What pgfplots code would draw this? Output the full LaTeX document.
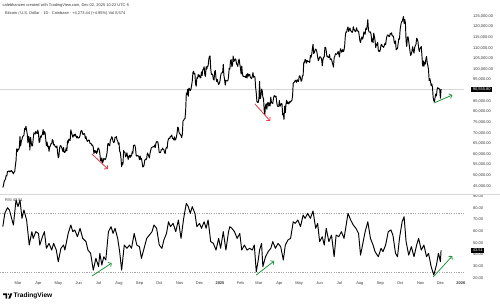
\documentclass[border=0pt]{standalone}
\usepackage{fontspec}
\setmainfont{Liberation Sans}
\usepackage{pgfplots}
\pgfplotsset{compat=1.18}
\usetikzlibrary{arrows.meta}
\definecolor{tvred}{RGB}{232,54,60}
\definecolor{tvgreen}{RGB}{34,150,60}
\definecolor{tvtext}{RGB}{55,55,62}
\definecolor{tvgrid}{RGB}{215,215,218}
\begin{document}
\begin{tikzpicture}
\path[use as bounding box, fill=white] (0bp,0bp) rectangle (500bp,-306bp);
\pgfplotsset{tvaxis/.style={scale only axis, width=463.5bp, xmin=-27.3, xmax=675,
  axis line style={draw=none}, tick style={draw=none}, major tick length=0pt,
  clip mode=individual,
  tick label style={font=\fontsize{4}{5}\selectfont, text=tvtext, inner sep=0pt}}}
% ---------------- price pane ----------------
\begin{axis}[tvaxis, at={(0bp,-194bp)}, anchor=south west, height=194bp,
  ymin=41.235, ymax=132.529, xtick=\empty,
  ytick={45,50,55,60,65,70,75,80,85,95,100,105,110,115,120,125},
  yticklabels={{45,000.00},{50,000.00},{55,000.00},{60,000.00},{65,000.00},{70,000.00},{75,000.00},{80,000.00},{85,000.00},{95,000.00},{100,000.00},{105,000.00},{110,000.00},{115,000.00},{120,000.00},{125,000.00}},
  yticklabel pos=right, yticklabel style={anchor=west, xshift=9.5bp}]
\draw[tvgrid, line width=0.6bp] (axis cs:-27.3,90.5558) -- (axis cs:675,90.5558);
\addplot[black, line width=0.95bp, line join=round] coordinates {
(-23,44.3)(-22,45.3)(-21,47.15)(-20,47.75)(-19,48.3)(-18,49.95)(-17,49.7)(-16,51.8)(-15,51.9)(-14,52.1)(-13,51.65)(-12,52.1)(-11,51.8)(-10,52.25)(-9,51.85)(-8,51.3)(-7,50.75)(-6,51.55)(-5,51.75)(-4,54.5)(-3,57.05)(-2,62.5)(-1,61.15)
(0,62.4)(1,62.0)(2,63.15)(3,68.3)(4,63.8)(5,66.1)(6,66.9)(7,68.3)(8,68.5)(9,69.0)(10,72.1)(11,71.45)(12,73.1)(13,71.4)(14,69.4)(15,65.3)(16,68.4)(17,67.6)(18,61.9)(19,67.9)(20,65.5)(21,63.8)(22,64.0)(23,67.2)(24,70.0)(25,69.9)(26,69.45)(27,70.75)(28,69.9)(29,69.65)(30,71.3)
(31,69.7)(32,65.5)(33,65.95)(34,68.5)(35,67.85)(36,68.9)(37,69.35)(38,71.6)(39,69.15)(40,70.6)(41,70.0)(42,67.1)(43,63.9)(44,65.7)(45,63.4)(46,63.8)(47,61.3)(48,63.5)(49,63.8)(50,64.95)(51,64.95)(52,66.8)(53,66.4)(54,64.3)(55,64.5)(56,63.75)(57,63.45)(58,63.1)(59,63.85)(60,60.65)
(61,58.25)(62,59.1)(63,62.9)(64,63.9)(65,64.0)(66,63.15)(67,62.3)(68,61.2)(69,63.1)(70,60.8)(71,60.8)(72,61.45)(73,62.9)(74,61.55)(75,66.25)(76,65.25)(77,67.05)(78,66.95)(79,66.3)(80,71.45)(81,70.15)(82,69.15)(83,67.95)(84,68.55)(85,69.3)(86,68.55)(87,69.4)(88,68.35)(89,67.65)(90,68.35)(91,67.5)
(92,67.75)(93,67.8)(94,68.8)(95,70.55)(96,71.1)(97,70.8)(98,69.35)(99,69.3)(100,69.65)(101,69.5)(102,67.3)(103,68.25)(104,66.75)(105,66.0)(106,66.2)(107,66.65)(108,66.5)(109,65.15)(110,64.95)(111,64.85)(112,64.1)(113,64.25)(114,63.2)(115,60.3)(116,61.8)(117,60.85)(118,61.6)(119,60.3)(120,60.9)(121,62.7)
(122,62.85)(123,62.0)(124,60.2)(125,57.05)(126,56.65)(127,58.25)(128,55.85)(129,56.7)(130,58.05)(131,57.75)(132,57.35)(133,57.9)(134,59.2)(135,60.8)(136,64.75)(137,65.05)(138,64.1)(139,63.95)(140,66.7)(141,67.15)(142,68.2)(143,67.6)(144,65.95)(145,65.4)(146,65.8)(147,67.9)(148,67.85)(149,68.25)(150,66.8)(151,66.2)(152,64.65)
(153,65.35)(154,61.45)(155,60.7)(156,58.15)(157,54.0)(158,56.05)(159,55.15)(160,61.7)(161,60.85)(162,60.9)(163,58.7)(164,59.35)(165,60.6)(166,58.75)(167,57.55)(168,58.9)(169,59.5)(170,58.45)(171,59.5)(172,59.05)(173,61.15)(174,60.4)(175,64.1)(176,64.2)(177,64.25)(178,62.85)(179,59.45)(180,59.05)(181,59.4)(182,59.15)(183,58.95)
(184,57.35)(185,59.15)(186,57.5)(187,58.0)(188,56.2)(189,53.95)(190,54.15)(191,54.85)(192,57.05)(193,57.65)(194,57.35)(195,58.15)(196,60.55)(197,60.0)(198,59.15)(199,58.2)(200,60.3)(201,61.75)(202,62.95)(203,63.2)(204,63.35)(205,63.6)(206,63.35)(207,64.25)(208,63.15)(209,65.2)(210,65.85)(211,65.85)(212,65.6)(213,63.3)
(214,60.8)(215,60.65)(216,60.75)(217,62.05)(218,62.05)(219,62.8)(220,62.2)(221,62.15)(222,60.6)(223,60.3)(224,62.45)(225,63.2)(226,62.85)(227,66.05)(228,67.05)(229,67.6)(230,67.4)(231,68.4)(232,68.35)(233,69.0)(234,67.35)(235,67.4)(236,66.65)(237,68.15)(238,66.6)(239,67.0)(240,67.95)(241,69.9)(242,72.7)(243,72.3)(244,70.2)
(245,69.5)(246,69.35)(247,68.75)(248,67.8)(249,69.35)(250,75.6)(251,75.9)(252,76.55)(253,76.7)(254,80.4)(255,88.7)(256,87.95)(257,90.5)(258,87.25)(259,91.05)(260,90.6)(261,89.85)(262,90.45)(263,92.3)(264,94.3)(265,98.35)(266,98.95)(267,97.7)(268,97.9)(269,93.0)(270,91.95)(271,95.95)(272,95.65)(273,97.45)(274,96.45)
(275,97.2)(276,95.85)(277,96.0)(278,98.75)(279,96.95)(280,99.8)(281,99.95)(282,101.15)(283,97.35)(284,96.6)(285,101.1)(286,100.0)(287,101.4)(288,101.4)(289,104.45)(290,106.05)(291,106.15)(292,100.2)(293,97.45)(294,97.75)(295,97.2)(296,95.15)(297,94.85)(298,98.7)(299,99.4)(300,95.8)(301,94.2)(302,95.15)(303,93.6)(304,92.75)(305,93.4)
(306,94.4)(307,96.9)(308,98.1)(309,98.25)(310,98.35)(311,102.25)(312,96.95)(313,95.05)(314,92.5)(315,94.7)(316,94.55)(317,94.5)(318,94.5)(319,96.55)(320,100.5)(321,99.95)(322,104.1)(323,104.45)(324,101.1)(325,102.05)(326,106.15)(327,103.65)(328,103.95)(329,104.8)(330,104.7)(331,102.6)(332,102.1)(333,101.3)(334,103.75)(335,104.75)(336,102.45)
(337,100.65)(338,97.7)(339,101.4)(340,97.85)(341,96.6)(342,96.55)(343,96.5)(344,96.45)(345,96.1)(346,97.45)(347,95.8)(348,97.9)(349,96.65)(350,97.55)(351,97.6)(352,96.15)(353,95.8)(354,95.55)(355,96.65)(356,98.35)(357,96.15)(358,96.6)(359,96.25)(360,91.55)(361,88.7)(362,84.7)(363,84.35)(364,84.35)
(365,86.05)(366,94.25)(367,86.1)(368,87.25)(369,90.6)(370,89.95)(371,86.75)(372,86.15)(373,80.75)(374,78.6)(375,82.9)(376,83.7)(377,81.1)(378,83.95)(379,84.35)(380,82.6)(381,84.05)(382,82.7)(383,86.85)(384,84.2)(385,84.05)(386,83.85)(387,86.1)(388,87.5)(389,87.45)(390,86.9)(391,87.2)(392,84.35)(393,82.65)(394,82.4)(395,82.55)
(396,85.2)(397,82.5)(398,83.15)(399,83.85)(400,83.55)(401,78.4)(402,79.15)(403,76.3)(404,82.6)(405,79.6)(406,83.4)(407,85.3)(408,83.75)(409,84.55)(410,83.65)(411,84.05)(412,84.9)(413,84.45)(414,85.05)(415,85.2)(416,87.5)(417,93.4)(418,93.7)(419,93.95)(420,94.7)(421,94.65)(422,93.75)(423,95.05)(424,94.3)(425,94.2)
(426,96.5)(427,96.9)(428,95.9)(429,94.3)(430,94.75)(431,96.85)(432,97.05)(433,103.25)(434,102.95)(435,104.65)(436,104.15)(437,102.8)(438,104.15)(439,103.55)(440,103.75)(441,103.5)(442,103.15)(443,106.5)(444,105.6)(445,106.8)(446,109.7)(447,111.7)(448,107.3)(449,107.8)(450,109.0)(451,109.45)(452,108.95)(453,107.8)(454,105.65)(455,103.95)(456,104.6)
(457,105.7)(458,105.8)(459,105.45)(460,104.75)(461,101.55)(462,104.35)(463,105.6)(464,105.75)(465,110.25)(466,110.25)(467,108.65)(468,105.95)(469,106.1)(470,105.45)(471,105.55)(472,106.8)(473,104.55)(474,104.85)(475,104.65)(476,103.3)(477,102.15)(478,100.95)(479,105.45)(480,106.05)(481,107.3)(482,106.95)(483,107.1)(484,107.35)(485,108.35)(486,107.15)
(487,105.7)(488,108.85)(489,109.6)(490,108.0)(491,108.25)(492,109.2)(493,108.25)(494,108.95)(495,111.3)(496,115.95)(497,117.55)(498,117.4)(499,119.1)(500,119.85)(501,117.7)(502,118.75)(503,119.3)(504,117.95)(505,117.95)(506,117.3)(507,117.45)(508,119.95)(509,118.75)(510,118.35)(511,117.6)(512,117.95)(513,119.45)(514,118.05)(515,117.9)(516,117.8)(517,115.75)
(518,113.3)(519,112.55)(520,114.2)(521,115.15)(522,114.1)(523,115.0)(524,117.5)(525,116.65)(526,116.45)(527,119.3)(528,118.7)(529,120.15)(530,123.3)(531,118.35)(532,117.4)(533,117.45)(534,117.5)(535,116.25)(536,112.85)(537,114.3)(538,112.45)(539,116.9)(540,115.35)(541,113.45)(542,110.1)(543,111.8)(544,111.25)(545,112.55)(546,108.4)(547,108.8)(548,108.25)
(549,109.25)(550,111.25)(551,111.7)(552,110.7)(553,110.65)(554,110.2)(555,111.15)(556,112.1)(557,111.5)(558,113.95)(559,115.5)(560,116.1)(561,115.95)(562,115.35)(563,115.4)(564,116.8)(565,116.45)(566,117.1)(567,115.65)(568,115.7)(569,115.25)(570,112.7)(571,112.0)(572,113.3)(573,109.05)(574,109.7)(575,109.65)(576,112.15)(577,114.4)(578,114.05)
(579,118.65)(580,120.65)(581,122.25)(582,122.4)(583,123.5)(584,124.75)(585,121.45)(586,123.35)(587,121.7)(588,113.2)(589,110.65)(590,115.05)(591,115.25)(592,113.05)(593,110.75)(594,108.2)(595,106.45)(596,107.15)(597,108.65)(598,110.55)(599,108.45)(600,107.55)(601,110.05)(602,111.05)(603,111.65)(604,114.55)(605,114.1)(606,112.9)(607,110.05)(608,108.3)(609,109.6)
(610,110.1)(611,110.65)(612,106.55)(613,101.5)(614,103.9)(615,101.3)(616,103.35)(617,102.3)(618,104.7)(619,106.0)(620,103.05)(621,101.65)(622,99.7)(623,94.55)(624,95.55)(625,94.2)(626,92.2)(627,92.95)(628,91.55)(629,86.65)(630,85.1)(631,84.7)(632,86.85)(633,88.3)(634,87.35)(635,90.5)(636,91.3)(637,90.9)(638,90.8)(639,90.4)
(640,86.3)(641,90.55)};
\draw[tvred, line width=0.8bp, -{Straight Barb[length=2.2bp,width=5bp]}] (axis cs:112,60.06) -- (axis cs:136,53.0);
\draw[tvred, line width=0.8bp, -{Straight Barb[length=2.2bp,width=5bp]}] (axis cs:359,83.6) -- (axis cs:382,75.6);
\draw[tvgreen, line width=0.8bp, -{Straight Barb[length=2.2bp,width=5bp]}] (axis cs:630,84.06) -- (axis cs:658,87.8);
\node[anchor=west, fill=black, text=white, inner xsep=1.6bp, inner ysep=0.9bp, font=\fontsize{4}{5}\selectfont, xshift=7.6bp] at (axis cs:675,90.5558) {90,555.80};
\end{axis}
% ---------------- RSI pane ----------------
\begin{axis}[tvaxis, at={(0bp,-280bp)}, anchor=south west, height=86bp,
  ymin=18.21, ymax=91.71,
  ytick={20,30,40,50,60,70,80,90},
  yticklabels={20.00,30.00,40.00,50.00,60.00,70.00,80.00,90.00},
  yticklabel pos=right, yticklabel style={anchor=west, xshift=9.5bp},
  xtick={0,31,61,92,122,153,184,214,245,275,306,337,365,396,426,457,487,518,549,579,610,640,671},
  xticklabels={Mar,Apr,May,Jun,Jul,Aug,Sep,Oct,Nov,Dec,\textbf{2025},Feb,Mar,Apr,May,Jun,Jul,Aug,Sep,Oct,Nov,Dec,\textbf{2026}},
  xticklabel style={anchor=north, yshift=-1.6bp}]
\draw[gray!70, line width=0.5bp, dash pattern=on 1.1bp off 1.3bp] (axis cs:-27.3,75) -- (axis cs:675,75);
\draw[gray!70, line width=0.5bp, dash pattern=on 1.1bp off 1.3bp] (axis cs:-27.3,25) -- (axis cs:675,25);
\addplot[black, line width=0.95bp, line join=round] coordinates {
(-23,63.8)(-20,75.2)(-16,80)(-13,78)(-7,65.2)(-3,86.6)(0,80.9)(3,86.6)(6,70.9)(9,78)(13,69.5)(17,48.1)(21,59.5)(23,53.8)(27,59.5)(31,58)(33,48.1)(37,55.2)(40,59.5)(43,45.3)(47,49.5)(51,43.8)(54,49.5)(58,43.8)(61,33.8)(65,45.3)(69,48.1)(71,43.8)(76,58)(80,65.2)(83,59.5)(86,61)(90,55.2)(94,62.4)(98,53.8)(103,51)(106,43.8)(110,41)(114,26.7)(118,36.7)(122,29.6)(124,41)(127,31)(130,38.1)(133,35.3)(137,59.5)(141,63.8)(144,58)(147,62.4)(151,53.8)(154,42.4)(157,26.7)(161,48.1)(165,45.3)(169,48.1)(172,45.3)(176,58)(180,48.1)(184,46.7)(187,36.7)(191,45.3)(195,53.8)(199,56.6)(203,59.5)(206,65.2)(210,62.4)(214,48.1)(218,45.3)(221,52.4)(225,58)(228,68)(231,63.8)(235,66.6)(239,59.5)(243,69.5)(247,53.8)(251,70.9)(255,83.7)(258,80.9)(261,75.2)(264,80.9)(268,75.2)(271,63.8)(275,66.6)(278,62.4)(282,68)(285,62.4)(288,69.5)(292,51)(296,49.5)(300,43.8)(304,53.8)(307,45.3)(311,59.5)(315,43.8)(319,59.5)(321,63.8)(324,62.4)(328,59.5)(332,53.8)(336,58)(339,43.8)(343,48.1)(347,43.8)(351,45.3)(355,43.8)(358,48.1)(361,25.3)(364,35.3)(366,43.8)(369,49.5)(371,29.6)(375,38.1)(379,42.4)(383,45.3)(386,51)(390,45.3)(394,49.5)(398,46.7)(402,35.3)(405,48.1)(409,52.4)(413,53.8)(417,68)(420,66.6)(424,69.5)(428,63.8)(432,73.7)(435,70.9)(439,75.2)(443,70.9)(447,77.2)(451,62.4)(454,66.6)(457,51)(461,55.2)(464,48.1)(467,62.4)(471,51)(475,56.6)(479,38.1)(482,56.6)(486,55.2)(490,59.5)(494,53.8)(498,68)(500,75.2)(504,69.5)(508,65.2)(512,62.4)(516,58)(519,39.5)(523,51)(526,59.5)(530,68)(534,53.8)(538,48.1)(541,42.4)(546,38.1)(550,45.3)(553,42.4)(557,48.1)(561,59.5)(565,61)(568,56.6)(572,41)(575,38.1)(578,53.8)(582,68)(585,72.3)(588,51)(592,39.5)(596,46.7)(600,38.1)(604,48.1)(607,53.8)(611,43.8)(615,48.1)(619,38.1)(622,41)(626,29.6)(630,22.5)(634,31)(637,41)(638,39)(640,33.8)(641,43.5)};
\draw[tvgreen, line width=0.8bp, -{Straight Barb[length=2.2bp,width=5bp]}] (axis cs:112,21.6) -- (axis cs:142,32.7);
\draw[tvgreen, line width=0.8bp, -{Straight Barb[length=2.2bp,width=5bp]}] (axis cs:361,22.5) -- (axis cs:388,34.4);
\draw[tvgreen, line width=0.8bp, -{Straight Barb[length=2.2bp,width=5bp]}] (axis cs:629,20.8) -- (axis cs:658,38.7);
\node[anchor=west, fill=black, text=white, inner xsep=1.6bp, inner ysep=0.9bp, font=\fontsize{4}{5}\selectfont, xshift=7.6bp] at (axis cs:675,43.51) {43.51};
\end{axis}
% ---------------- frame texts ----------------
\draw[tvgrid, line width=0.6bp] (0bp,-194bp) -- (500bp,-194bp);
\node[anchor=west, inner sep=0pt, font=\fontsize{4}{5}\selectfont, text=tvtext] at (2.5bp,-5bp) {calebhanzen created with TradingView.com, Dec 02, 2025 10:22 UTC-5};
\node[anchor=west, inner sep=0pt, font=\fontsize{4}{5}\selectfont, text=tvtext] at (5bp,-13bp) {Bitcoin / U.S. Dollar · 1D · Coinbase · +4,273.44 (+4.95\%) Vol 8,574};
\node[anchor=west, inner sep=0pt, font=\fontsize{4}{5}\selectfont, text=tvtext] at (5bp,-200bp) {RSI 43.51};
\fill[black] (3bp,-293.3bp) -- (7.2bp,-293.3bp) -- (7.2bp,-298.6bp) -- (5.5bp,-298.6bp) -- (5.5bp,-295bp) -- (3bp,-295bp) -- cycle;
\fill[black] (8.6bp,-294.2bp) circle (0.85bp);
\fill[black] (10.4bp,-293.3bp) -- (12.3bp,-293.3bp) -- (10.2bp,-298.6bp) -- (8.3bp,-298.6bp) -- cycle;
\node[anchor=west, inner sep=0pt, font=\fontsize{6.6}{7}\selectfont\bfseries, text=black] at (13.5bp,-296bp) {TradingView};
\end{tikzpicture}
\end{document}
